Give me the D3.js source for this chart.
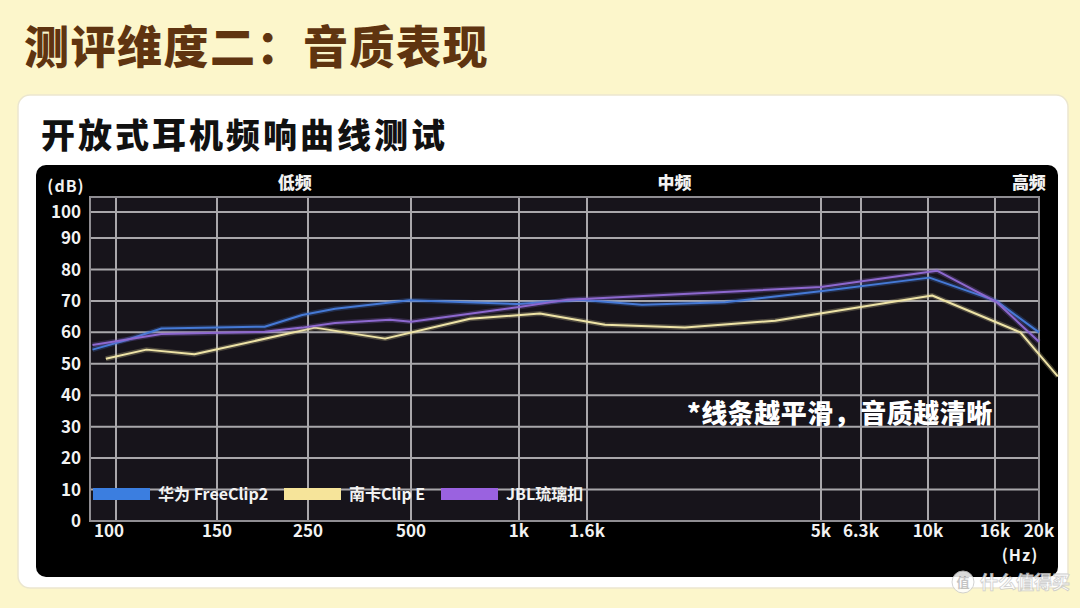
<!DOCTYPE html>
<html>
<head>
<meta charset="utf-8">
<script src="https://cdn.jsdelivr.net/npm/d3@7"></script>
<style>
  body { margin: 0; background: #fcf6cb; }
  svg { display: block; font-family: "Noto Sans CJK SC", "Noto Sans", sans-serif; }
</style>
</head>
<body>
<div id="chart"></div>
<script>
// frequency axis ticks (Hz) and their labels
const xTicks = [100, 150, 250, 500, 1000, 1600, 5000, 6300, 10000, 16000, 20000];
const xTickLabels = ["100", "150", "250", "500", "1k", "1.6k", "5k", "6.3k", "10k", "16k", "20k"];
const yTicks = [0, 10, 20, 30, 40, 50, 60, 70, 80, 90, 100];
const bands = ["低频", "中频", "高频"];
const bandFreqs = [232, 2450, 19000];

const seriesNames = ["华为 FreeClip2", "南卡Clip E", "JBL琉璃扣"];

// frequency response readings [Hz, dB]
const huawei = [
    [91, 54.5], [104, 57.5], [120, 61.2], [196, 61.8], [242, 65.5], [300, 67.5],
    [434, 69.5], [495, 70.2], [990, 69], [1524, 70.4], [2091, 68.8], [3133, 69.6],
    [5100, 73.2], [10100, 77.4], [16100, 70], [20000, 60]
];
const nanka = [
    [96, 51.6], [113, 54.5], [137, 53], [262, 61.5], [420, 58], [730, 64.3],
    [1156, 66], [1747, 62.4], [2578, 61.5], [4000, 63.7], [10300, 71.7],
    [18200, 60], [22000, 46]
];
const jbl = [
    [91, 56], [120, 59.5], [196, 60.2], [242, 61.5], [300, 63], [434, 64],
    [500, 63.4], [990, 68], [1400, 70.4], [5000, 74.4], [10650, 79.6],
    [16100, 69.7], [20000, 57]
];

const seriesColors = ["#4579d6", "#eee3a6", "#8d68cf"];
const legendColors = ["#3b7ee0", "#f6e49a", "#9a62e0"];

const W = 1080, H = 608;
// pixel positions of the uneven frequency grid
const xTickPos = [116, 217, 308, 411, 519, 587, 821, 861, 928, 995, 1039];
const plot = { left: 90, right: 1039, top: 197, bottom: 521 };

const svg = d3.select("#chart").append("svg")
    .attr("width", W)
    .attr("height", H);

// page title
svg.append("text")
    .attr("x", 24).attr("y", 64)
    .attr("fill", "#5f3410")
    .style("font-size", "45px").style("font-weight", 900)
    .style("letter-spacing", "1.5px")
    .text("测评维度二：音质表现");

// white card
svg.append("rect")
    .attr("x", 18).attr("y", 95).attr("width", 1050).attr("height", 493)
    .attr("rx", 12).attr("fill", "#fff")
    .attr("stroke", "#ebe6cf").attr("stroke-width", 1.5);

svg.append("text")
    .attr("x", 41).attr("y", 148)
    .attr("fill", "#111")
    .style("font-size", "34px").style("font-weight", 900)
    .style("letter-spacing", "3px")
    .text("开放式耳机频响曲线测试");

// black panel
svg.append("rect")
    .attr("x", 36).attr("y", 165).attr("width", 1022).attr("height", 412)
    .attr("rx", 10).attr("fill", "#000");

svg.append("rect")
    .attr("x", plot.left).attr("y", plot.top)
    .attr("width", plot.right - plot.left).attr("height", plot.bottom - plot.top)
    .attr("fill", "#17141b");

// scales
const x = d3.scaleLog().domain(xTicks).range(xTickPos);
const y = d3.scaleLinear().domain([0, 90, 100]).range([521, 238, 212]);

const grid = svg.append("g").attr("stroke", "#a9a7ab").attr("stroke-width", 2);

grid.selectAll(".hgrid").data(yTicks).enter()
    .append("line")
    .attr("class", "hgrid")
    .attr("x1", plot.left).attr("x2", plot.right)
    .attr("y1", d => y(d)).attr("y2", d => y(d));

grid.selectAll(".vgrid").data(xTicks).enter()
    .append("line")
    .attr("class", "vgrid")
    .attr("x1", d => x(d)).attr("x2", d => x(d))
    .attr("y1", plot.top).attr("y2", plot.bottom);

// frame
svg.append("rect")
    .attr("x", plot.left).attr("y", plot.top)
    .attr("width", plot.right - plot.left).attr("height", plot.bottom - plot.top)
    .attr("fill", "none").attr("stroke", "#8f8d92").attr("stroke-width", 2);

// y axis labels
svg.append("g").selectAll("text").data(yTicks).enter()
    .append("text")
    .attr("x", 81).attr("y", d => y(d))
    .attr("dy", "0.36em")
    .attr("text-anchor", "end")
    .attr("fill", "#f2f2f2")
    .style("font-size", "17px").style("font-weight", 700)
    .text(d => d);

svg.append("text")
    .attr("x", 66).attr("y", 192)
    .attr("text-anchor", "middle")
    .attr("fill", "#f2f2f2")
    .style("font-size", "16px").style("font-weight", 700)
    .style("letter-spacing", "1px")
    .text("(dB)");

// x axis labels
svg.append("g").selectAll("text").data(xTicks).enter()
    .append("text")
    .attr("x", (d, i) => x(d) - (i === 0 ? 7 : 0))
    .attr("y", 537)
    .attr("text-anchor", "middle")
    .attr("fill", "#f2f2f2")
    .style("font-size", "17px").style("font-weight", 700)
    .text((d, i) => xTickLabels[i]);

svg.append("text")
    .attr("x", 1020).attr("y", 561)
    .attr("text-anchor", "middle")
    .attr("fill", "#f2f2f2")
    .style("font-size", "16px").style("font-weight", 700)
    .style("letter-spacing", "1px")
    .text("(Hz)");

// band labels
svg.append("g").selectAll("text").data(bands).enter()
    .append("text")
    .attr("x", (d, i) => x(bandFreqs[i]))
    .attr("y", 189)
    .attr("text-anchor", "middle")
    .attr("fill", "#f2f2f2")
    .style("font-size", "17px").style("font-weight", 900)
    .text(d => d);

// response lines
const line = d3.line()
    .x(d => x(d[0]))
    .y(d => y(d[1]));

[huawei, nanka, jbl].forEach((s, i) => {
    svg.append("path")
        .datum(s)
        .attr("d", line)
        .attr("fill", "none")
        .attr("stroke", seriesColors[i])
        .attr("stroke-opacity", 0.25)
        .attr("stroke-width", 5)
        .attr("stroke-linejoin", "round");
    svg.append("path")
        .datum(s)
        .attr("d", line)
        .attr("fill", "none")
        .attr("stroke", seriesColors[i])
        .attr("stroke-width", 2)
        .attr("stroke-linejoin", "round");
});

// legend
const legendX = [93, 284, 441];
const legend = svg.append("g");
seriesNames.forEach((name, i) => {
    legend.append("rect")
        .attr("x", legendX[i]).attr("y", 488)
        .attr("width", 57).attr("height", 12)
        .attr("fill", legendColors[i]);
    legend.append("text")
        .attr("x", legendX[i] + 65).attr("y", 500)
        .attr("fill", "#f2f2f2")
        .style("font-size", "16px").style("font-weight", 700)
        .text(name);
});

// note
svg.append("text")
    .attr("x", 687).attr("y", 423)
    .attr("fill", "#fff")
    .style("font-size", "26px").style("font-weight", 900)
    .style("letter-spacing", "0.5px")
    .text("*线条越平滑，音质越清晰");

// watermark
const wm = svg.append("g").attr("opacity", 0.85);
wm.append("circle")
    .attr("cx", 963).attr("cy", 582).attr("r", 11)
    .attr("fill", "#fff").attr("stroke", "#ccc").attr("stroke-width", 1);
wm.append("text")
    .attr("x", 963).attr("y", 587)
    .attr("text-anchor", "middle")
    .attr("fill", "#bbb")
    .style("font-size", "13px").style("font-weight", 700)
    .text("值");
wm.append("text")
    .attr("x", 980).attr("y", 589)
    .attr("fill", "#fff").attr("stroke", "#c9c9c9").attr("stroke-width", 0.8)
    .style("font-size", "18px").style("font-weight", 700)
    .text("什么值得买");
</script>
</body>
</html>
